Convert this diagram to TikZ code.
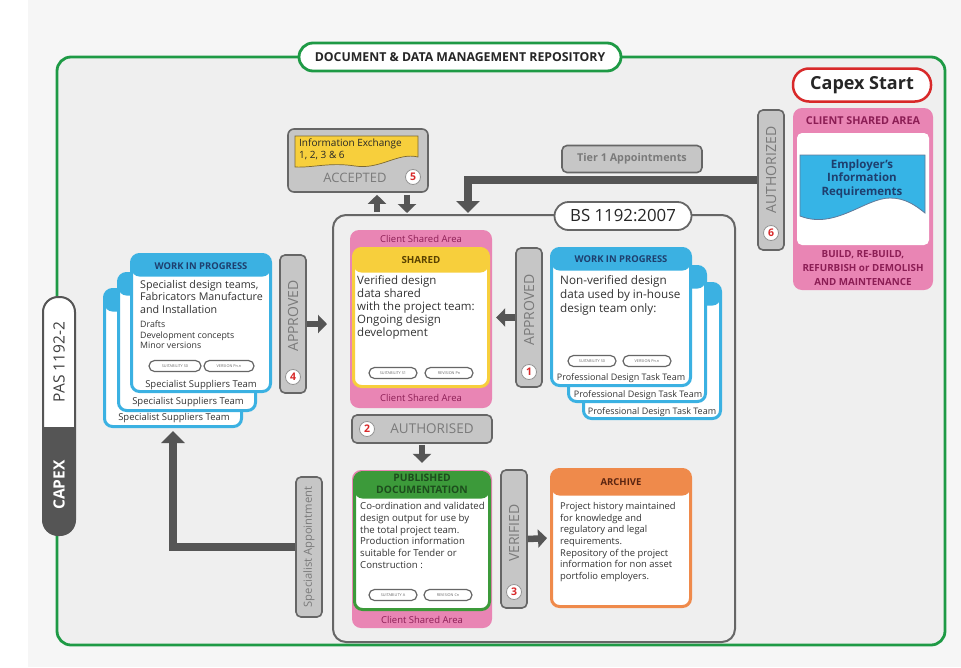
\documentclass[tikz,border=0pt]{standalone}
\usepackage{fontspec}
\setmainfont{Open Sans}
\usetikzlibrary{arrows.meta,calc}
\newcommand\myfs[2]{\fontsize{#1}{#2}\selectfont}
\definecolor{bgout}{HTML}{F6F6F6}
\definecolor{bgin}{HTML}{EFEFEF}
\definecolor{frameg}{HTML}{1E9A45}
\definecolor{gbox}{HTML}{C6C6C6}
\definecolor{gline}{HTML}{666666}
\definecolor{gtext}{HTML}{7A7A7A}
\definecolor{darr}{HTML}{555555}
\definecolor{cpink}{HTML}{E985B4}
\definecolor{pinktext}{HTML}{8C1E55}
\definecolor{cyel}{HTML}{F7CF3C}
\definecolor{yeltext}{HTML}{5A4200}
\definecolor{cblue}{HTML}{3BB1E2}
\definecolor{navy}{HTML}{1E3F6E}
\definecolor{cgreen}{HTML}{3C9A3A}
\definecolor{dgreen}{HTML}{1D4D1D}
\definecolor{corange}{HTML}{EF8A4B}
\definecolor{otext}{HTML}{5A2410}
\definecolor{cred}{HTML}{D8292A}
\definecolor{bodytext}{HTML}{333333}
\definecolor{docblue}{HTML}{36B4E6}
\definecolor{tabdark}{HTML}{555555}
\tikzset{
  vbox/.style={draw=gline, fill=gbox, line width=1.6pt, rounded corners=5pt, minimum width=26pt, inner sep=0pt},
  hbox/.style={draw=gline, fill=gbox, line width=1.6pt, rounded corners=5pt, inner sep=0pt},
  vlabel/.style={rotate=90, text=gtext, inner sep=0pt, font=\myfs{14}{14}},
  num/.style={circle, draw=gline!70, line width=0.8pt, fill=white, text=cred, inner sep=0pt, minimum size=15pt, font=\bfseries\myfs{10.5}{10.5}},
  pill/.style={draw=gline, line width=1.2pt, fill=white, rounded corners=5.5pt, minimum width=48pt, minimum height=11pt, inner sep=0pt, font=\myfs{3.8}{3.8}, text=gline},
  card/.style 2 args={draw=#1, line width=3pt, fill=white, rounded corners=8pt, inner sep=0pt,
     path picture={\fill[#1] (path picture bounding box.north west) rectangle ([yshift=-#2]path picture bounding box.north east);}},
  pinkbox/.style={fill=cpink, rounded corners=9pt, inner sep=0pt},
  bodyt/.style={text=bodytext, align=left, inner sep=0pt, anchor=north west},
  foot/.style={text=bodytext, inner sep=0pt, font=\myfs{9.5}{9.5}},
  headt/.style={inner sep=0pt, font=\bfseries\myfs{9.4}{10}, align=center},
  cst/.style={text=pinktext, inner sep=0pt, font=\myfs{9.5}{9.5}},
  bigarr/.style={draw=darr, line width=8pt, -{Triangle[length=12pt,width=23pt]}},
  arr/.style={draw=darr, line width=6.5pt, -{Triangle[length=9pt,width=18pt]}},
}
\begin{document}
\begin{tikzpicture}[x=1pt,y=-1pt]
\useasboundingbox (0,0) rectangle (961,667);
\fill[bgout] (0,0) rectangle (961,667);
\fill[white] (0,0) rectangle (28,667);
% outer frame
\draw[frameg, line width=2.8pt, fill=bgin, rounded corners=14pt] (57,57) rectangle (945,645);
\node[draw=frameg, line width=2.8pt, fill=white, rounded corners=14pt, minimum width=322pt, minimum height=28pt, inner sep=0pt, font=\bfseries\myfs{12.3}{12.3}, text=black!85] (title) at (460,57) {DOCUMENT \& DATA MANAGEMENT REPOSITORY};
% left tab
\begin{scope}
  \clip[rounded corners=15pt] (43,297) rectangle (75,535);
  \fill[white] (43,297) rectangle (75,427);
  \fill[tabdark] (43,427) rectangle (75,535);
\end{scope}
\draw[tabdark, line width=2pt, rounded corners=15pt] (43,297) rectangle (75,535);
\node[rotate=90, text=black!75, inner sep=0pt, font=\myfs{15.5}{15.5}] (pas) at (59,362) {PAS 1192-2};
\node[rotate=90, text=white, inner sep=0pt, font=\bfseries\myfs{15.5}{15.5}] (capex) at (59,485) {CAPEX};
% Capex start
\node[draw=cred, line width=2.5pt, fill=white, rounded corners=16pt, minimum width=138pt, minimum height=33pt, inner sep=0pt, font=\bfseries\myfs{18}{18}, text=black!85] (cstart) at (862,85) {Capex Start};
% client shared area (right)
\node[pinkbox, minimum width=140pt, minimum height=182pt] (csa) at (863,199) {};
\node[fill=white, rounded corners=5pt, minimum width=132pt, minimum height=112pt, inner sep=0pt] (csawhite) at (863,189) {};
\node[text=pinktext, inner sep=0pt, font=\bfseries\myfs{10.8}{10.8}] (csah) at (863,121) {CLIENT SHARED AREA};
\node[text=pinktext, inner sep=0pt, align=center, font=\bfseries\myfs{9.8}{13.8}] (csaf) at (863,268) {BUILD, RE-BUILD,\\REFURBISH or DEMOLISH\\AND MAINTENANCE};
\draw[fill=docblue, draw=navy!70, line width=0.8pt] (800,155) -- (925,155) -- (925,213) .. controls (915,205) and (905,198) .. (890,198) .. controls (865,198) and (835,230) .. (800,216) -- cycle;
\node[text=navy, inner sep=0pt, align=center, font=\bfseries\myfs{11.5}{13.5}] (eir) at (862,179) {Employer's\\Information\\Requirements};
% authorized 6
\node[vbox, minimum height=140pt] (auth) at (771,180) {};
\node[vlabel] (authl) at (771,170) {AUTHORIZED};
\node[num] (n6) at (771,233) {6};
% tier 1
\node[hbox, minimum width=140pt, minimum height=27pt, text=gtext, font=\bfseries\myfs{10.8}{10.8}] (tier) at (632,159) {Tier 1 Appointments};
% accepted
\node[hbox, minimum width=140pt, minimum height=63pt, rounded corners=6pt] (acc) at (358,160.5) {};
\draw[fill=cyel, draw=yeltext!80, line width=0.7pt] (295,136) -- (418,136) -- (418,157) .. controls (398,152) and (380,170) .. (355,166) .. controls (330,162) and (312,168) .. (295,167) -- cycle;
\node[text=black!85, inner sep=0pt, anchor=north west, align=left, font=\myfs{10}{11.5}] (iex) at (299,139) {Information Exchange\\1, 2, 3 \& 6};
\node[text=gtext, inner sep=0pt, font=\myfs{13}{13}] (accl) at (355,178) {ACCEPTED};
\node[num] (n5) at (413,177) {5};
% BS box
\node[draw=gline, line width=2pt, fill=bgin, rounded corners=13pt, minimum width=402pt, minimum height=427pt, inner sep=0pt] (bs) at (534,428.5) {};
\node[draw=gline, line width=1.8pt, fill=white, rounded corners=14pt, minimum width=137pt, minimum height=28pt, inner sep=0pt, font=\myfs{16.8}{16.8}, text=black!85] (bsl) at (623,216) {BS 1192:2007};
% tier connector
\coordinate (bsin) at (468,213);
\draw[bigarr] (auth.west) -| (bsin);
% accepted arrows
\coordinate (upx) at (377,0);
\coordinate (dnx) at (407,0);
\draw[arr, shorten <=2pt, shorten >=2pt] (bs.north -| upx) -- (acc.south -| upx);
\draw[arr, shorten <=2pt, shorten >=1pt] (acc.south -| dnx) -- (bs.north -| dnx);
% shared
\node[pinkbox, minimum width=142pt, minimum height=178pt] (sharedp) at (421,319) {};
\node[card={cyel}{24pt}, minimum width=135pt, minimum height=138pt] (shared) at (421,317.5) {};
\node[cst] (sh1) at (421,239) {Client Shared Area};
\node[cst] (sh2) at (421,398) {Client Shared Area};
\node[headt, text=yeltext, font=\bfseries\myfs{9.8}{9.8}] (shh) at (421,260) {SHARED};
\node[bodyt, font=\myfs{11.5}{13}] (shb) at (357,275) {Verified design\\data shared\\with the project team:\\Ongoing design\\development};
\node[pill] (shp1) at (393,373) {SUITABILITY S1};
\node[pill] (shp2) at (449,373) {REVISION Pn};
% right WIP stack
\node[card={cblue}{22pt}, minimum width=137pt, minimum height=135pt] (c3r) at (652,351) {};
\node[card={cblue}{22pt}, minimum width=137pt, minimum height=135pt] (c2r) at (637,334) {};
\node[card={cblue}{22pt}, minimum width=139pt, minimum height=137pt] (c1r) at (621,317) {};
\node[headt, text=navy] (c1rh) at (621,259) {WORK IN PROGRESS};
\node[bodyt, font=\myfs{11.7}{14}] (c1rb) at (560,275) {Non-verified design\\data used by in-house\\design team only:};
\node[pill] (c1rp1) at (592,361) {SUITABILITY S0};
\node[pill] (c1rp2) at (647,361) {VERSION Pn.n};
\node[foot, font=\myfs{9}{9}] (c1rf) at (621,378) {Professional Design Task Team};
\node[foot, font=\myfs{9}{9}] (c2rf) at (638,395.5) {Professional Design Task Team};
\node[foot, font=\myfs{9}{9}] (c3rf) at (652,412.5) {Professional Design Task Team};
% left WIP stack
\node[card={cblue}{22pt}, minimum width=137pt, minimum height=137pt] (c3l) at (173,358) {};
\node[card={cblue}{22pt}, minimum width=137pt, minimum height=137pt] (c2l) at (187,342) {};
\node[card={cblue}{22pt}, minimum width=139pt, minimum height=137pt] (c1l) at (201,323) {};
\node[headt, text=navy] (c1lh) at (201,266) {WORK IN PROGRESS};
\node[bodyt, font=\myfs{10.7}{12.5}] (c1lb) at (140,280) {Specialist design teams,\\Fabricators Manufacture\\and Installation};
\node[bodyt, font=\myfs{8.8}{10.5}] (c1lb2) at (140,321) {Drafts\\Development concepts\\Minor versions};
\node[pill, minimum width=52pt] (c1lp1) at (175,366) {SUITABILITY S0};
\node[pill, minimum width=50pt] (c1lp2) at (229,366) {VERSION Pn.n};
\node[foot] (c1lf) at (201,385) {Specialist Suppliers Team};
\node[foot] (c2lf) at (188,402.5) {Specialist Suppliers Team};
\node[foot] (c3lf) at (174,418.5) {Specialist Suppliers Team};
% approved 4
\node[vbox, minimum height=138pt] (ap4) at (293,324) {};
\node[vlabel] (ap4l) at (293,316) {APPROVED};
\node[num] (n4) at (293,377) {4};
\draw[arr, shorten >=5pt] (ap4.east) -- (ap4.east -| bs.west);
% approved 1
\node[vbox, minimum height=139pt] (ap1) at (529,317.5) {};
\node[vlabel] (ap1l) at (529,310) {APPROVED};
\node[num] (n1) at (529,372) {1};
\draw[arr, shorten >=4pt] (ap1.west) -- (ap1.west -| sharedp.east);
% authorised 2
\node[hbox, minimum width=140pt, minimum height=28pt] (auth2) at (422,429) {};
\node[num] (n2) at (367,429) {2};
\node[text=gtext, inner sep=0pt, font=\myfs{13.5}{13.5}] (auth2l) at (432,429) {AUTHORISED};
% published
\node[pinkbox, minimum width=140pt, minimum height=158pt] (pubp) at (422,549) {};
\node[card={cgreen}{26pt}, minimum width=135pt, minimum height=137pt] (pub) at (422,541) {};
\node[headt, text=dgreen, font=\bfseries\myfs{10.3}{11.5}] (pubh) at (422,484) {PUBLISHED\\DOCUMENTATION};
\node[bodyt, font=\myfs{9.6}{11.8}] (pubb) at (360,502) {Co-ordination and validated\\design output for use by\\the total project team.\\Production information\\suitable for Tender or\\Construction :};
\node[pill] (pubp1) at (393,595) {SUITABILITY A};
\node[pill] (pubp2) at (448,595) {REVISION Cn};
\node[cst] (pubf) at (422,620) {Client Shared Area};
\draw[arr, shorten <=1pt, shorten >=7pt] (auth2.south) -- (pubp.north);
% verified 3
\node[vbox, minimum height=138pt] (ver) at (514,539) {};
\node[vlabel] (verl) at (514,533) {VERIFIED};
\node[num] (n3) at (514,592) {3};
% archive
\node[card={corange}{26pt}, minimum width=139pt, minimum height=137pt] (arch) at (621,538) {};
\node[headt, text=otext, font=\bfseries\myfs{9.5}{9.5}] (archh) at (621,482) {ARCHIVE};
\node[bodyt, font=\myfs{9.4}{11.7}] (archb) at (560,502) {Project history maintained\\for knowledge and\\regulatory and legal\\requirements.\\Repository of the project\\information for non asset\\portfolio employers.};
\draw[arr, shorten >=3pt] (ver.east) -- (arch.west);
% specialist appointment
\node[vbox, minimum height=140pt] (spec) at (309,547) {};
\node[vlabel, font=\myfs{11.2}{11.2}] (specl) at (309,547) {Specialist Appointment};
\draw[bigarr, shorten >=3pt] (spec.west) -| (c3l.south);
\end{tikzpicture}
\end{document}
